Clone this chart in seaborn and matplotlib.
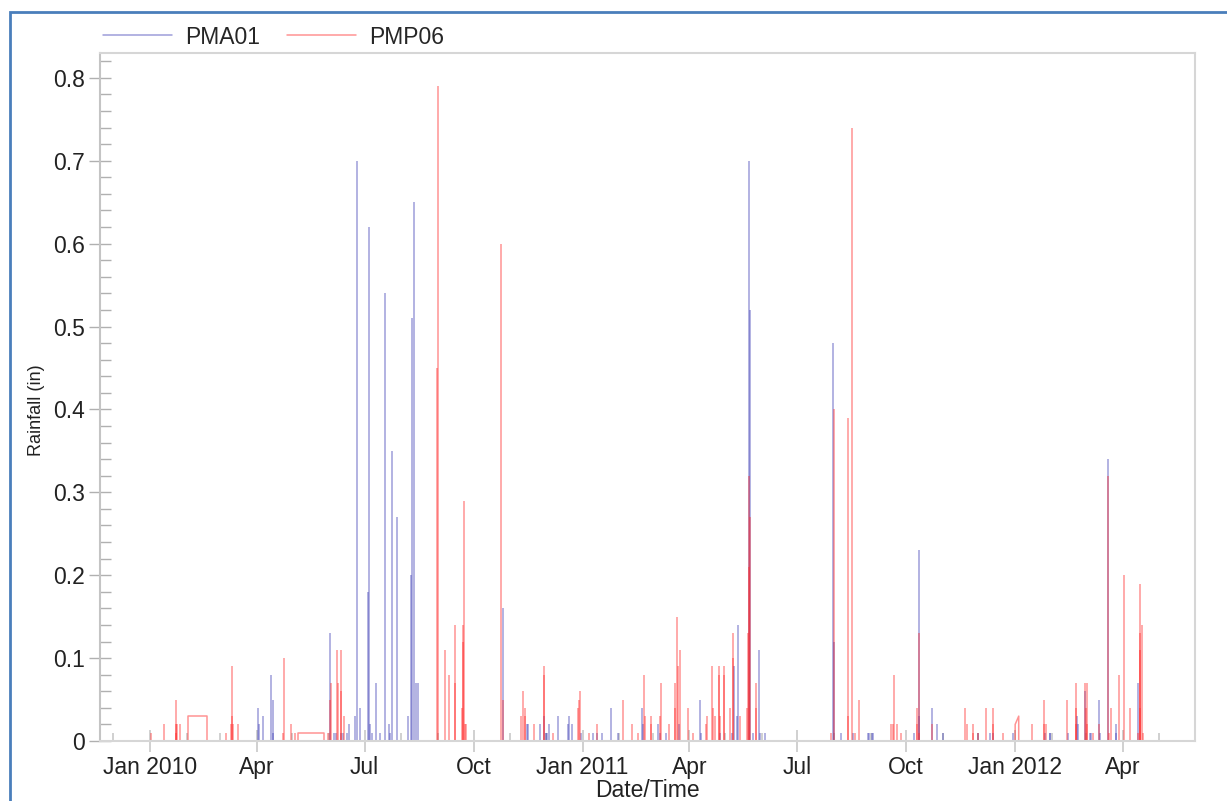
import numpy as np
import pandas as pd
import matplotlib
matplotlib.use("Agg")
import matplotlib.pyplot as plt
import matplotlib.dates as mdates
from matplotlib.lines import Line2D
from matplotlib.patches import Rectangle
from matplotlib.ticker import MultipleLocator, FuncFormatter
import seaborn as sns

# ---------------- data ----------------
pma01_times = [
    "2010-04-02 06:00", "2010-04-02 12:00", "2010-04-06", "2010-04-13", "2010-04-14 14:00", "2010-04-15",
    "2010-06-01 22:00", "2010-06-05", "2010-06-07", "2010-06-11", "2010-06-13", "2010-06-16", "2010-06-18",
    "2010-06-23", "2010-06-25", "2010-06-27",
    "2010-07-04", "2010-07-05", "2010-07-05 06:00", "2010-07-07", "2010-07-11", "2010-07-14", "2010-07-18",
    "2010-07-22", "2010-07-22 12:00", "2010-07-24", "2010-07-28",
    "2010-08-07", "2010-08-09", "2010-08-10", "2010-08-11 18:00", "2010-08-13", "2010-08-15",
    "2010-10-25 12:00",
    "2010-11-15", "2010-11-16", "2010-11-26", "2010-11-29", "2010-12-01", "2010-12-02", "2010-12-04",
    "2010-12-11", "2010-12-20", "2010-12-20 12:00", "2010-12-23", "2010-12-31",
    "2011-01-10", "2011-01-13", "2011-01-17", "2011-01-25", "2011-01-31",
    "2011-02-20 12:00", "2011-02-20 18:00", "2011-03-06", "2011-03-07", "2011-03-12", "2011-03-23",
    "2011-04-10", "2011-04-10 12:00", "2011-04-27", "2011-05-07", "2011-05-09", "2011-05-11", "2011-05-12",
    "2011-05-21 19:00", "2011-05-22 08:00", "2011-05-25", "2011-05-30", "2011-05-31", "2011-06-04",
    "2011-07-31", "2011-08-01 12:00", "2011-08-07", "2011-08-17", "2011-08-30", "2011-08-31", "2011-09-02",
    "2011-09-03",
    "2011-10-08", "2011-10-12", "2011-10-12 06:00", "2011-10-23", "2011-10-27", "2011-11-01", "2011-12-01",
    "2011-12-11", "2011-12-13", "2011-12-30",
    "2012-01-26", "2012-01-30", "2012-01-30 12:00", "2012-02-15", "2012-02-22", "2012-02-23", "2012-02-29",
    "2012-03-04", "2012-03-05", "2012-03-12", "2012-03-12 06:00", "2012-03-19", "2012-03-26",
    "2012-03-26 12:00", "2012-04-14",
]
pma01_values = [
    0.04, 0.02, 0.03, 0.08, 0.05, 0.01,
    0.13, 0.01, 0.01, 0.01, 0.01, 0.01, 0.02,
    0.03, 0.70, 0.04,
    0.18, 0.62, 0.02, 0.01, 0.07, 0.01, 0.54,
    0.02, 0.01, 0.35, 0.27,
    0.03, 0.20, 0.51, 0.65, 0.07, 0.07,
    0.16,
    0.02, 0.02, 0.02, 0.03, 0.01, 0.01, 0.02,
    0.03, 0.02, 0.03, 0.02, 0.01,
    0.01, 0.01, 0.01, 0.04, 0.01,
    0.04, 0.02, 0.02, 0.01, 0.01, 0.02,
    0.05, 0.01, 0.01, 0.01, 0.09, 0.03, 0.14,
    0.70, 0.52, 0.01, 0.11, 0.01, 0.01,
    0.48, 0.12, 0.01, 0.01, 0.01, 0.01, 0.01,
    0.01,
    0.01, 0.23, 0.03, 0.04, 0.02, 0.01, 0.01,
    0.01, 0.01, 0.01,
    0.01, 0.01, 0.01, 0.01, 0.03, 0.02, 0.06,
    0.01, 0.01, 0.05, 0.01, 0.34, 0.02,
    0.01, 0.07,
]

pmp06_times = [
    "2010-01-01 14:00", "2010-01-13", "2010-01-22 18:00", "2010-01-23", "2010-01-23 06:00", "2010-01-24",
    "2010-01-26",
    "2010-03-06", "2010-03-10", "2010-03-10 18:00", "2010-03-11", "2010-03-12", "2010-03-16",
    "2010-04-23 12:00", "2010-04-24", "2010-04-30", "2010-05-03", "2010-05-31",
    "2010-06-01 22:00", "2010-06-03", "2010-06-08", "2010-06-08 06:00", "2010-06-11", "2010-06-11 06:00",
    "2010-06-14",
    "2010-08-31", "2010-08-31 20:00", "2010-09-07", "2010-09-10", "2010-09-15", "2010-09-15 06:00",
    "2010-09-21", "2010-09-22", "2010-09-22 06:00", "2010-09-23", "2010-09-24", "2010-09-25",
    "2010-10-24", "2010-10-26", "2010-11-10", "2010-11-12", "2010-11-13", "2010-11-13 12:00", "2010-11-21",
    "2010-11-29", "2010-11-29 12:00", "2010-12-07", "2010-12-28", "2010-12-29", "2010-12-29 12:00",
    "2011-01-06", "2011-01-13", "2011-02-04", "2011-02-12", "2011-02-17", "2011-02-22", "2011-02-23",
    "2011-02-27 12:00", "2011-02-28", "2011-03-07 12:00", "2011-03-08", "2011-03-15", "2011-03-20",
    "2011-03-20 06:00", "2011-03-22", "2011-03-22 06:00", "2011-03-24", "2011-03-31", "2011-04-04",
    "2011-04-15", "2011-04-16", "2011-04-20", "2011-04-21", "2011-04-23", "2011-04-26", "2011-04-26 06:00",
    "2011-04-26 18:00", "2011-04-30", "2011-04-30 06:00", "2011-05-05", "2011-05-08", "2011-05-08 06:00",
    "2011-05-14", "2011-05-20", "2011-05-20 18:00", "2011-05-21 08:00", "2011-05-21 16:00", "2011-05-22",
    "2011-05-27", "2011-05-27 06:00",
    "2011-07-30", "2011-08-01 06:00", "2011-08-13", "2011-08-13 06:00", "2011-08-16", "2011-08-19",
    "2011-08-22", "2011-09-18", "2011-09-20", "2011-09-21", "2011-09-23", "2011-09-27", "2011-10-10",
    "2011-10-10 12:00", "2011-10-12", "2011-10-12 06:00", "2011-10-23", "2011-11-20", "2011-11-21",
    "2011-11-26", "2011-11-26 12:00", "2011-12-01", "2011-12-07", "2011-12-13", "2011-12-13 12:00",
    "2011-12-22",
    "2012-01-15", "2012-01-25", "2012-01-25 12:00", "2012-01-27", "2012-02-14", "2012-02-21",
    "2012-02-21 06:00", "2012-02-21 12:00", "2012-02-29", "2012-03-01", "2012-03-01 12:00", "2012-03-02",
    "2012-03-07", "2012-03-12", "2012-03-19", "2012-03-20", "2012-03-22", "2012-03-29", "2012-04-02",
    "2012-04-07", "2012-04-14", "2012-04-15", "2012-04-15 06:00", "2012-04-15 14:00", "2012-04-15 18:00",
    "2012-04-17", "2012-04-17 12:00",
]
pmp06_values = [
    0.01, 0.02, 0.01, 0.05, 0.02, 0.02,
    0.02,
    0.01, 0.02, 0.03, 0.09, 0.02, 0.02,
    0.01, 0.10, 0.02, 0.01, 0.01,
    0.05, 0.07, 0.11, 0.07, 0.11, 0.06,
    0.03,
    0.45, 0.79, 0.11, 0.08, 0.14, 0.07,
    0.04, 0.14, 0.12, 0.29, 0.02, 0.02,
    0.60, 0.05, 0.03, 0.06, 0.04, 0.03, 0.02,
    0.09, 0.08, 0.01, 0.04, 0.05, 0.06,
    0.01, 0.02, 0.05, 0.02, 0.01, 0.08, 0.03,
    0.02, 0.03, 0.03, 0.07, 0.02, 0.07,
    0.04, 0.15, 0.09, 0.11, 0.04, 0.01,
    0.02, 0.03, 0.09, 0.04, 0.03, 0.09, 0.08,
    0.03, 0.09, 0.08, 0.04, 0.13, 0.10,
    0.03, 0.04, 0.13, 0.21, 0.32, 0.27,
    0.07, 0.04,
    0.01, 0.40, 0.39, 0.03, 0.74, 0.01,
    0.05, 0.02, 0.02, 0.08, 0.02, 0.01, 0.04,
    0.02, 0.13, 0.01, 0.02, 0.04, 0.02,
    0.02, 0.01, 0.01, 0.04, 0.04, 0.02,
    0.01,
    0.02, 0.05, 0.02, 0.02, 0.05, 0.07,
    0.04, 0.02, 0.07, 0.04, 0.02, 0.07,
    0.01, 0.02, 0.32, 0.01, 0.04, 0.08, 0.20,
    0.04, 0.01, 0.13, 0.11, 0.19, 0.04,
    0.14, 0.01,
]

# stretches where the PMP06 record runs level / sloped between readings
pmp06_span_start = ["2010-02-02", "2010-05-06", "2012-01-01"]
pmp06_span_end = ["2010-02-18", "2010-05-28", "2012-01-04"]
pmp06_span_level_start = [0.03, 0.01, 0.02]
pmp06_span_level_end = [0.03, 0.01, 0.03]

series_names = ["PMA01", "PMP06"]
series_colors = {"PMA01": "#3c3cb4", "PMP06": "#ff2828"}

# ---------------- build long-form table ----------------
rows = []
uid = 0
for name, times, vals in [("PMA01", pma01_times, pma01_values),
                          ("PMP06", pmp06_times, pmp06_values)]:
    for t, v in zip(times, vals):
        rows.append((name, uid, t, 0.0))
        rows.append((name, uid, t, v))
        uid += 1
for t1, t2, l1, l2 in zip(pmp06_span_start, pmp06_span_end,
                          pmp06_span_level_start, pmp06_span_level_end):
    rows.append(("PMP06", uid, t1, 0.0))
    rows.append(("PMP06", uid, t1, l1))
    rows.append(("PMP06", uid, t2, l2))
    rows.append(("PMP06", uid, t2, 0.0))
    uid += 1

df = pd.DataFrame(rows, columns=["series", "unit", "time", "rain"])
df["time"] = pd.to_datetime(df["time"], format="mixed")

# ---------------- style ----------------
sns.set_theme(style="white")
plt.rcParams["font.family"] = ["Liberation Sans", "DejaVu Sans"]

W, H = 1227, 801
fig = plt.figure(figsize=(W / 100, H / 100), dpi=100)
fig.patch.set_facecolor("white")
ax = fig.add_axes([100 / W, 1 - 741 / H, 1095 / W, 688 / H])

line_alpha = 0.5
sns.lineplot(data=df, x="time", y="rain", hue="series", hue_order=series_names,
             units="unit", estimator=None, sort=False, palette=series_colors,
             linewidth=1.1, alpha=line_alpha, legend=False, ax=ax,
             solid_capstyle="butt")

ax.set_xlim(pd.Timestamp("2009-11-19 18:00"), pd.Timestamp("2012-05-31 18:00"))
ax.set_ylim(0, 0.83)

# ticks
ax.xaxis.set_major_locator(mdates.MonthLocator(bymonth=[1, 4, 7, 10]))
ax.xaxis.set_minor_locator(mdates.MonthLocator())


def xfmt(x, pos):
    d = mdates.num2date(x)
    return d.strftime("%b %Y") if d.month == 1 else d.strftime("%b")


ax.xaxis.set_major_formatter(FuncFormatter(xfmt))
ax.yaxis.set_major_locator(MultipleLocator(0.1))
ax.yaxis.set_minor_locator(MultipleLocator(0.02))
ax.yaxis.set_major_formatter(FuncFormatter(lambda v, p: f"{v:g}"))

ax.tick_params(axis="x", which="major", direction="inout", length=16, width=1.2,
               color="#c8c8c8", labelsize=16.5, labelcolor="#222222", pad=3)
ax.tick_params(axis="x", which="minor", direction="in", length=6, width=1.2,
               color="#c8c8c8")
ax.tick_params(axis="y", which="major", direction="inout", length=16, width=1.0,
               color="#b0b0b0", labelsize=16.5, labelcolor="#222222", pad=3)
ax.tick_params(axis="y", which="minor", direction="in", length=8, width=1.0,
               color="#b0b0b0")
ax.tick_params(which="both", bottom=True, left=True, top=False, right=False)

for s in ax.spines.values():
    s.set_color("#d6d6d6")
    s.set_linewidth(1.5)
    s.set_visible(True)
ax.spines["left"].set_color("#c4c4c4")

ax.set_xlabel("Date/Time", fontsize=16.5, color="#222222", labelpad=0)
ax.set_ylabel("Rainfall (in)", fontsize=13, color="#222222")
ax.yaxis.set_label_coords(-0.050, 0.481)

# legend above the plot
handles = [Line2D([], [], color=series_colors[n], alpha=line_alpha, linewidth=1.1)
           for n in series_names]
fig.legend(handles, series_names, loc="center left",
           bbox_to_anchor=(103 / W, 1 - 37 / H), ncol=2, frameon=False,
           fontsize=16.5, handlelength=3.0, handletextpad=0.6, columnspacing=1.15,
           borderpad=0, borderaxespad=0)

# outer frame of the original screenshot
fig.add_artist(Rectangle((10 / W, -0.05), 1.2, (1 - 12 / H) + 0.05,
                         transform=fig.transFigure, fill=False,
                         edgecolor="#4a7ebb", linewidth=2.0))

fig.savefig("out.png", dpi=100)
